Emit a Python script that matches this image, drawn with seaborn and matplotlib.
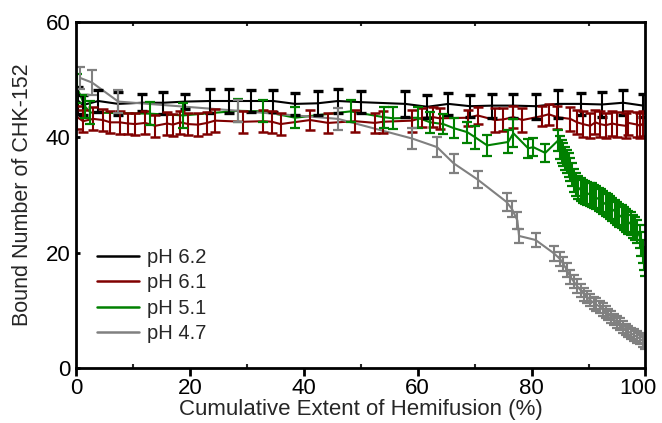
import numpy as np
import pandas as pd
import matplotlib
matplotlib.use("Agg")
import matplotlib.pyplot as plt
import matplotlib.transforms as mtransforms
import seaborn as sns
from matplotlib.ticker import MultipleLocator
from matplotlib.lines import Line2D

# ---------------- data ----------------
labels = ["pH 6.2", "pH 6.1", "pH 5.1", "pH 4.7"]
colors = ["#000000", "#800000", "#008000", "#808080"]

x62 = [0.3, 1.2, 3.9, 7.4, 11.6, 15.3, 19.2, 23.5, 26.9, 30.8, 34.6, 38.5, 42.4, 46.0,
       50.0, 57.8, 61.7, 65.4, 69.2, 73.1, 76.8, 80.7, 84.7, 88.6, 92.4, 96.1, 99.6]
y62 = [46.4, 45.6, 46.3, 45.8, 46.0, 46.0, 46.2, 46.3, 46.3, 46.3, 46.3, 45.8, 45.9, 46.3,
       46.1, 45.8, 45.3, 45.8, 45.4, 45.5, 45.5, 45.4, 45.8, 45.8, 45.7, 46.0, 45.5]
e62 = [2.4, 1.8, 1.9, 2.0, 1.5, 1.9, 1.3, 2.1, 2.1, 1.9, 1.9, 1.9, 2.1, 2.1,
       1.9, 2.3, 2.0, 1.9, 1.9, 2.1, 2.1, 2.2, 2.4, 1.9, 2.2, 2.2, 2.0]

x61 = [0.2, 1.2, 3.0, 4.7, 6.0, 7.7, 9.1, 10.4, 12.1, 13.9, 16.0, 17.0, 18.3, 19.7, 21.4,
       23.0, 24.4, 29.3, 32.9, 34.4, 35.9, 41.1, 44.3, 49.0, 52.5, 53.9, 59.0, 60.8, 62.7,
       63.9, 68.9, 70.5, 73.6, 75.0, 76.8, 78.4, 81.9, 83.0, 84.5, 86.8, 88.0, 89.0, 90.3,
       91.2, 92.0, 93.0, 94.2, 95.0, 96.5, 97.0, 98.6, 99.0, 99.6]
y61 = [43.5, 42.8, 43.2, 43.0, 42.6, 42.6, 42.4, 42.3, 42.5, 42.0, 42.4, 42.2, 42.6, 42.3, 42.2,
       42.5, 42.9, 42.7, 42.8, 42.7, 42.3, 43.0, 42.5, 42.8, 42.5, 42.7, 42.9, 43.4, 43.5,
       43.3, 43.4, 43.8, 43.0, 43.1, 43.5, 43.0, 43.7, 44.0, 43.5, 43.2, 42.6, 42.3, 42.0,
       42.6, 42.3, 42.1, 42.4, 42.2, 42.0, 42.5, 42.2, 42.0, 42.4]
e61 = [2.0, 1.9, 2.0, 1.9, 1.9, 2.0, 1.9, 1.9, 2.0, 1.9, 2.0, 1.9, 2.0, 1.9, 2.0,
       1.9, 2.0, 1.9, 1.9, 1.9, 1.9, 1.8, 1.8, 1.9, 1.8, 1.9, 1.9, 1.6, 1.7,
       1.8, 1.4, 1.5, 2.0, 2.0, 1.9, 2.0, 1.8, 1.8, 2.0, 2.1, 2.1, 2.2, 2.2,
       2.1, 2.2, 2.2, 2.1, 2.2, 2.2, 2.1, 2.2, 2.2, 2.1]

x51 = [0.2, 1.6, 2.5, 13.0, 18.8, 28.5, 32.8, 38.5, 48.2, 54.0, 55.7, 60.0, 62.2, 64.5,
       66.3, 68.7, 70.1, 72.2, 75.9, 76.8, 79.4, 80.3, 82.4, 84.7,
       85.0, 85.3, 85.6, 85.9, 86.2, 86.5, 86.8, 87.1, 87.4, 87.8, 88.2, 88.6, 89.0, 89.4,
       89.8, 90.2, 90.6, 91.0, 91.4, 91.8, 92.2, 92.6, 93.0, 93.4, 93.8, 94.2, 94.6, 95.0,
       95.4, 95.8, 96.2, 96.6, 97.0, 97.4, 97.8, 98.2, 98.6, 99.0, 99.3, 99.5, 99.7, 99.85]
y51 = [48.5, 45.3, 44.3, 44.1, 43.8, 44.6, 44.5, 43.4, 44.5, 43.5, 43.3, 43.4, 42.6, 42.3,
       41.6, 40.9, 40.0, 38.6, 39.2, 40.7, 38.1, 38.3, 37.3, 39.5,
       38.3, 37.6, 37.0, 36.4, 35.8, 35.2, 34.5, 33.6, 32.5, 31.8, 31.3, 30.9, 30.6, 30.4,
       30.3, 30.1, 30.0, 29.8, 29.5, 29.3, 29.0, 28.7, 28.4, 28.1, 27.8, 27.5, 27.2, 26.8,
       26.5, 26.2, 25.9, 25.6, 25.3, 25.0, 24.6, 24.2, 23.6, 22.8, 21.5, 20.2, 19.0, 18.0]
e51 = [2.5, 2.0, 2.0, 2.0, 2.1, 2.0, 1.9, 1.8, 1.9, 1.8, 1.9, 1.8, 1.8, 1.8,
       1.8, 1.8, 2.0, 1.8, 2.0, 2.4, 1.6, 1.6, 1.5, 1.8,
       2.0, 2.0, 2.0, 2.0, 2.0, 2.0, 2.0, 2.0, 2.0, 2.0, 2.0, 2.0, 2.0, 2.0,
       2.0, 2.0, 2.0, 2.0, 2.0, 2.0, 2.0, 2.0, 2.0, 2.0, 2.0, 2.0, 2.0, 2.0,
       2.0, 2.0, 2.0, 2.0, 2.0, 2.0, 2.0, 2.0, 2.0, 2.0, 2.0, 2.0, 2.0, 2.0]

x47 = [0.7, 2.8, 7.4, 28.5, 46.0, 59.0, 63.4, 66.3, 70.5, 75.6, 76.6, 77.5, 77.8, 80.7,
       83.9, 85.0, 85.6, 86.2, 86.8, 87.4, 88.0, 88.6, 89.2, 89.8, 90.3, 90.9, 91.4, 92.0,
       92.5, 93.0, 93.5, 94.0, 94.5, 95.0, 95.5, 96.0, 96.5, 97.0, 97.5, 98.0, 98.5, 99.0,
       99.5, 99.9]
y47 = [50.3, 49.5, 46.2, 44.6, 43.2, 39.8, 38.3, 35.5, 32.7, 28.8, 27.5, 25.6, 22.9, 22.2,
       19.9, 18.9, 18.0, 17.0, 15.8, 15.0, 14.2, 13.5, 12.8, 12.3, 11.8, 11.3, 11.0, 10.6,
       10.1, 9.7, 9.3, 8.8, 8.4, 8.0, 7.6, 7.1, 6.7, 6.3, 6.0, 5.7, 5.4, 5.1,
       4.7, 4.3]
e47 = [1.9, 2.2, 2.0, 1.9, 1.9, 1.8, 1.7, 1.6, 1.5, 1.5, 1.4, 1.5, 1.2, 1.2,
       1.3, 1.2, 1.2, 1.2, 1.2, 1.2, 1.2, 1.1, 1.1, 1.1, 1.1, 1.1, 1.1, 1.1,
       1.1, 1.0, 1.0, 1.0, 1.0, 1.0, 1.0, 1.0, 1.0, 1.0, 1.0, 1.0, 1.0, 1.0,
       1.0, 1.0]

series = [(x62, y62, e62), (x61, y61, e61), (x51, y51, e51), (x47, y47, e47)]

frames = []
for lab, (xs, ys, es) in zip(labels, series):
    frames.append(pd.DataFrame({"x": xs, "y": ys, "err": es, "series": lab}))
df = pd.concat(frames, ignore_index=True)

# ---------------- style ----------------
sns.set_theme(style="ticks")
plt.rcParams["font.family"] = ["Liberation Sans", "DejaVu Sans"]
plt.rcParams["axes.linewidth"] = 2.0

fig = plt.figure(figsize=(6.62, 4.23), dpi=100)
ax = fig.add_axes([0.115, 0.13, 0.86, 0.818])

sns.lineplot(data=df, x="x", y="y", hue="series", hue_order=labels,
             palette=dict(zip(labels, colors)), estimator=None, sort=False,
             linewidth=1.5, ax=ax, legend=False)

capth = {"pH 6.2": 2.4, "pH 6.1": 1.8, "pH 5.1": 1.6, "pH 4.7": 1.6}
for lab, col in zip(labels, colors):
    sub = df[df["series"] == lab]
    ax.errorbar(sub["x"], sub["y"], yerr=sub["err"], fmt="none", ecolor=col,
                elinewidth=1.5, capsize=3.6, capthick=capth[lab])

ax.set_xlim(0, 100)
ax.set_ylim(0, 60)
ax.xaxis.set_major_locator(MultipleLocator(20))
ax.xaxis.set_minor_locator(MultipleLocator(10))
ax.yaxis.set_major_locator(MultipleLocator(20))
ax.tick_params(axis="both", which="major", direction="out", length=6, width=2,
               labelsize=16, colors="black", pad=4)
ax.tick_params(axis="x", which="minor", direction="out", length=3, width=1.5)
ax.tick_params(top=True, which="both", direction="in", length=3)
ax.tick_params(axis="x", which="major", direction="out", length=6, top=False, bottom=True,
               pad=1)
for s in ax.spines.values():
    s.set_linewidth(2.0)
    s.set_color("black")

ax.set_xlabel("Cumulative Extent of Hemifusion (%)", fontsize=16, labelpad=0)
ax.set_ylabel("Bound Number of CHK-152", fontsize=15.5, labelpad=9)

# nudge the last x tick label left so it stays inside the figure
fig.canvas.draw()
for tick in ax.xaxis.get_major_ticks():
    if abs(tick.get_loc() - 100) < 1e-6:
        lbl = tick.label1
        lbl.set_transform(lbl.get_transform() +
                          mtransforms.ScaledTranslation(-8 / 100, 0, fig.dpi_scale_trans))

handles = [Line2D([], [], color=c, lw=1.8) for c in colors]
ax.legend(handles, labels, loc="center left", bbox_to_anchor=(0.012, 0.21),
          frameon=False, fontsize=14.5, handlelength=2.1, handletextpad=0.4,
          labelspacing=0.32, borderpad=0.2)

fig.savefig("out.png", dpi=100)
